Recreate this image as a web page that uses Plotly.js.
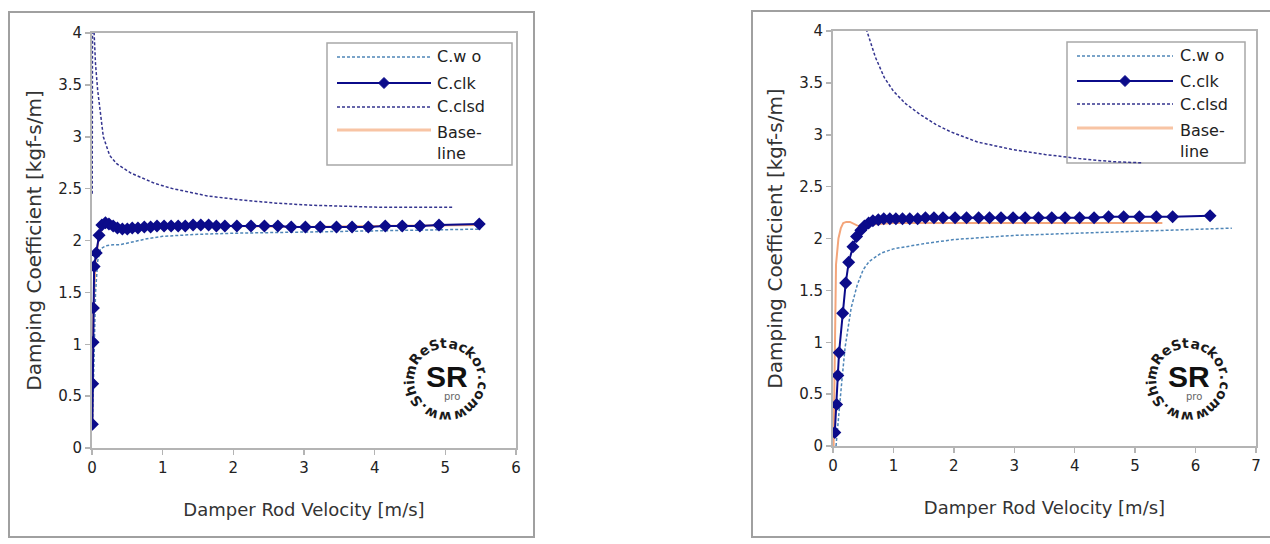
<!DOCTYPE html>
<html><head><meta charset="utf-8">
<script src="https://cdn.plot.ly/plotly-3.0.1.min.js"></script>
<style>html,body{margin:0;padding:0;background:#fff}#chart{width:1270px;height:544px}</style>
</head><body><div id="chart"></div>
<script>
// ---------- data : left chart ----------
const woL_x = [0.01,0.03,0.05,0.08,0.12,0.2,0.3,0.4,0.6,0.8,1,1.5,2,3,4,5,5.5];
const woL_y = [0.3,1.0,1.5,1.8,1.92,1.95,1.96,1.96,1.99,2.02,2.04,2.06,2.07,2.08,2.09,2.1,2.11];
const clkL_x = [0.005,0.01,0.015,0.02,0.03,0.06,0.1,0.14,0.19,0.24,0.3,0.36,0.43,0.5,0.57,0.65,0.74,0.83,0.92,1.02,1.12,1.22,1.32,1.43,1.54,1.65,1.76,1.88,2.05,2.25,2.44,2.63,2.82,3.02,3.23,3.46,3.68,3.91,4.15,4.39,4.64,4.91,5.48];
const clkL_y = [0.23,0.62,1.02,1.35,1.75,1.88,2.05,2.15,2.17,2.16,2.14,2.12,2.11,2.11,2.12,2.12,2.13,2.13,2.14,2.14,2.14,2.14,2.14,2.15,2.15,2.15,2.14,2.14,2.14,2.14,2.14,2.14,2.13,2.13,2.13,2.13,2.13,2.13,2.14,2.14,2.14,2.15,2.16];
const clsdL_x = [0.003,0.012,0.03,0.05,0.08,0.12,0.16,0.25,0.35,0.55,0.89,1.14,1.63,2.12,2.61,3.1,3.59,4.08,5.1];
const clsdL_y = [2.45,6,4.0,3.7,3.45,3.2,3.0,2.82,2.74,2.65,2.55,2.5,2.43,2.39,2.36,2.34,2.33,2.32,2.32];
const blL_x = [0.005,0.02,0.05,0.1,0.18,0.3,0.5,1,2,3,4,5,5.5];
const blL_y = [0.2,1.3,1.8,2.05,2.16,2.13,2.12,2.14,2.14,2.13,2.14,2.15,2.15];
// ---------- data : right chart ----------
const woR_x = [0.05,0.1,0.15,0.2,0.25,0.3,0.4,0.5,0.6,0.8,1,1.5,2,3,4,5,6,6.6];
const woR_y = [0,0.35,0.65,0.95,1.15,1.33,1.55,1.7,1.78,1.86,1.9,1.95,1.99,2.03,2.05,2.07,2.09,2.1];
const clkR_x = [0.03,0.06,0.08,0.1,0.16,0.21,0.26,0.33,0.39,0.46,0.52,0.59,0.66,0.75,0.84,0.94,1.04,1.15,1.27,1.4,1.53,1.67,1.82,2.02,2.21,2.41,2.59,2.78,2.98,3.18,3.4,3.62,3.84,4.08,4.32,4.56,4.81,5.07,5.35,5.62,6.24];
const clkR_y = [0.13,0.4,0.68,0.9,1.28,1.57,1.77,1.92,2.02,2.08,2.12,2.15,2.17,2.18,2.19,2.19,2.19,2.19,2.19,2.19,2.2,2.2,2.2,2.2,2.2,2.2,2.2,2.2,2.2,2.2,2.2,2.2,2.2,2.2,2.2,2.21,2.21,2.21,2.21,2.21,2.22];
const clsdR_x = [0.55,0.7,0.85,1,1.2,1.43,1.7,1.94,2.39,2.95,3.51,4.07,4.63,5.1];
const clsdR_y = [4.02,3.75,3.55,3.42,3.3,3.2,3.1,3.03,2.93,2.86,2.81,2.77,2.74,2.73];
const blR_x = [0.01,0.02,0.03,0.05,0.09,0.13,0.17,0.22,0.28,0.35,0.42,0.5,0.7,1,2,3,4,5,5.45];
const blR_y = [0,0.6,1.2,1.75,2.0,2.1,2.15,2.16,2.16,2.14,2.12,2.13,2.14,2.15,2.15,2.15,2.15,2.15,2.15];

const seriesNames = ['C.w o','C.clk','C.clsd','Base-<br>line'];
const xTitle = 'Damper Rod Velocity [m/s]';
const yTitle = 'Damping Coefficient [kgf-s/m]';
const logoText = 'www.ShimReStackor.com';

// ---------- styles ----------
const W = 1270, H = 544;
const px = v => v / W, py = v => 1 - v / H;
const C_WO = '#4f86b8', C_CLK = '#0b0b8a', C_CLSD = '#34348f', C_BL = '#f4a57a';
const FONT = 'DejaVu Sans';

function traces(sfx, wx, wy, kx, ky, sx, sy, bx, by) {
  const xa = 'x' + sfx, ya = 'y' + sfx;
  return [
    {x: bx, y: by, xaxis: xa, yaxis: ya, mode: 'lines', name: 'Base-line', showlegend: false,
     line: {color: C_BL, width: 2}},
    {x: wx, y: wy, xaxis: xa, yaxis: ya, mode: 'lines', name: 'C.w o', showlegend: false,
     line: {color: C_WO, width: 1.5, dash: '3px,2px'}},
    {x: sx, y: sy, xaxis: xa, yaxis: ya, mode: 'lines', name: 'C.clsd', showlegend: false,
     line: {color: C_CLSD, width: 1.5, dash: '3px,2px'}},
    {x: kx, y: ky, xaxis: xa, yaxis: ya, mode: 'lines+markers', name: 'C.clk', showlegend: false,
     line: {color: C_CLK, width: 2}, marker: {symbol: 'diamond', size: 10, color: C_CLK}}
  ];
}

const data = [
  ...traces('', woL_x, woL_y, clkL_x, clkL_y, clsdL_x, clsdL_y, blL_x, blL_y),
  ...traces('2', woR_x, woR_y, clkR_x, clkR_y, clsdR_x, clsdR_y, blR_x, blR_y)
];

function xax(d0, d1, rmax, anchor) {
  return {domain: [px(d0), px(d1)], range: [0, rmax], dtick: 1, anchor: anchor,
    showgrid: false, zeroline: false, showline: true, mirror: true, linecolor: '#b4b4b4', linewidth: 2,
    ticks: 'outside', ticklen: 5, tickwidth: 1.5, tickcolor: '#b4b4b4', automargin: false,
    tickfont: {family: FONT, size: 15, color: '#222'},
    title: {text: xTitle, font: {family: FONT, size: 18, color: '#333'}, standoff: 27}};
}
function yax(d0, d1, anchor) {
  return {domain: [py(d1), py(d0)], range: [0, 4], dtick: 0.5, anchor: anchor,
    showgrid: false, zeroline: false, showline: true, mirror: true, linecolor: '#b4b4b4', linewidth: 2,
    ticks: 'outside', ticklen: 5, tickwidth: 1.5, tickcolor: '#b4b4b4', automargin: false,
    tickfont: {family: FONT, size: 15, color: '#222'},
    title: {text: yTitle, font: {family: FONT, size: 20, color: '#333'}, standoff: 11}};
}

const shapes = [
  {type: 'rect', xref: 'paper', yref: 'paper', x0: px(9), x1: px(534), y0: py(12), y1: py(537),
   line: {color: '#a0a0a0', width: 2}, layer: 'below'},
  {type: 'rect', xref: 'paper', yref: 'paper', x0: px(752), x1: px(1285), y0: py(11), y1: py(537),
   line: {color: '#a0a0a0', width: 2}, layer: 'below'}
];
const annotations = [];

function legend(bx0, by0, bx1, by1, lx0, lx1, tx, ys) {
  shapes.push({type: 'rect', xref: 'paper', yref: 'paper', x0: px(bx0), x1: px(bx1), y0: py(by0), y1: py(by1),
    line: {color: '#a8a8a8', width: 1.5}, layer: 'below'});
  const styles = [
    {color: C_WO, width: 1.5, dash: '3px,2px'},
    {color: C_CLK, width: 2},
    {color: C_CLSD, width: 1.5, dash: '3px,2px'},
    {color: '#f8c4a4', width: 3}
  ];
  seriesNames.forEach((nm, i) => {
    const y = ys[i];
    shapes.push({type: 'line', xref: 'paper', yref: 'paper', x0: px(lx0), x1: px(lx1), y0: py(y), y1: py(y),
      line: styles[i], layer: 'above'});
    annotations.push({xref: 'paper', yref: 'paper', x: px(tx), y: py(i === 3 ? y - 9 : y),
      xanchor: 'left', yanchor: i === 3 ? 'top' : 'middle', showarrow: false, text: nm, align: 'left',
      font: {family: FONT, size: 16, color: '#222'}});
  });
  const cx = (lx0 + lx1) / 2, cy = ys[1], r = 5.5;
  shapes.push({type: 'path', xref: 'paper', yref: 'paper', layer: 'above',
    path: `M${px(cx)},${py(cy - r)} L${px(cx + r)},${py(cy)} L${px(cx)},${py(cy + r)} L${px(cx - r)},${py(cy)} Z`,
    fillcolor: C_CLK, line: {color: C_CLK, width: 1}});
}
legend(327, 43, 512, 165, 337, 431, 435, [57, 83, 107, 130]);
legend(1067, 42, 1245, 163, 1077, 1173, 1178, [56, 81, 104, 128]);

// approximate bold glyph widths (em) used to space the circular watermark text
const glyphW = {w: 0.92, '.': 0.38, S: 0.72, h: 0.71, i: 0.34, m: 1.04, R: 0.77, e: 0.68,
  t: 0.48, a: 0.68, c: 0.59, k: 0.67, o: 0.69, r: 0.49};
function logo(cx, cy) {
  const r = 37, start = 158, span = 338;
  const ws = logoText.split('').map(ch => glyphW[ch] || 0.6);
  const tot = ws.reduce((a, b) => a + b, 0) - ws[0] / 2 - ws[ws.length - 1] / 2;
  let acc = 0;
  for (let i = 0; i < ws.length; i++) {
    if (i > 0) acc += (ws[i - 1] + ws[i]) / 2;
    let th = start + span * acc / tot;
    const rad = th * Math.PI / 180;
    const x = cx + r * Math.sin(rad), y = cy - r * Math.cos(rad);
    th = ((th % 360) + 360) % 360; if (th > 180) th -= 360;
    annotations.push({xref: 'paper', yref: 'paper', x: px(x), y: py(y), text: logoText[i], showarrow: false,
      textangle: th, xanchor: 'center', yanchor: 'middle',
      font: {family: FONT, size: 14, color: '#1a1a1a', weight: 'bold'}});
  }
  annotations.push({xref: 'paper', yref: 'paper', x: px(cx + 1), y: py(cy - 4), text: 'SR', showarrow: false,
    xanchor: 'center', yanchor: 'middle', font: {family: 'Liberation Sans', size: 30, color: '#111', weight: 'bold'}});
  annotations.push({xref: 'paper', yref: 'paper', x: px(cx + 6), y: py(cy + 16), text: 'pro', showarrow: false,
    xanchor: 'center', yanchor: 'middle', font: {family: FONT, size: 10, color: '#666'}});
}
logo(446, 380);
logo(1188, 380);

const layout = {
  width: W, height: H, margin: {l: 0, r: 0, t: 0, b: 0},
  paper_bgcolor: '#ffffff', plot_bgcolor: '#ffffff', showlegend: false,
  xaxis: xax(92, 516, 6, 'y'),
  yaxis: yax(33, 448, 'x'),
  xaxis2: xax(833, 1256, 7, 'y2'),
  yaxis2: yax(31, 446, 'x2'),
  shapes: shapes, annotations: annotations
};
Plotly.newPlot('chart', data, layout, {displayModeBar: false, staticPlot: true});
</script></body></html>
